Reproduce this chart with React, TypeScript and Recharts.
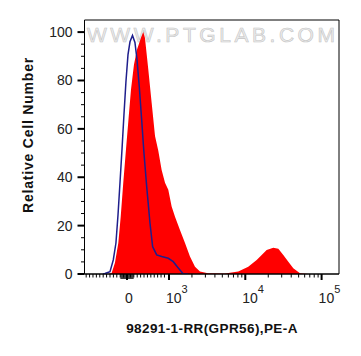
import React from "react";
import { ComposedChart, Area, Line, XAxis, YAxis, ReferenceArea, Label } from "recharts";

// x positions are in display decades (biexponential axis: 3 = 10^3, 4 = 10^4 ...)
const X_MIN = 1.893;
const X_MAX = 5.228;
const ZERO = 2.45;

const samplePos = [
  2.2, 2.249, 2.292, 2.336, 2.367, 2.401, 2.436, 2.469, 2.502, 2.541, 2.581, 2.607, 2.633,
  2.663, 2.685, 2.729, 2.773, 2.817, 2.86, 2.904, 2.948, 2.991, 3.035, 3.079, 3.144, 3.21,
  3.275, 3.341, 3.406, 3.511, 3.734, 3.908, 4.039, 4.149, 4.215, 4.28, 4.367, 4.433, 4.498,
  4.564, 4.629, 4.717, 4.822,
];
const sampleCount = [
  0, 0.4, 4.6, 12.8, 23.6, 37.7, 51.3, 63.8, 76.2, 86.5, 92.8, 95.2, 97.7,
  100, 97.7, 84.5, 70.8, 57, 51, 43, 37.7, 34.8, 27.9, 23.7, 18.2, 12.8,
  7.2, 3, 1, 0.3, 0.2, 1, 3, 5.8, 7.9, 9.9, 10.9, 10.4, 7.9,
  5.1, 2.4, 0.3, 0,
];

const controlPos = [
  2.135, 2.161, 2.227, 2.27, 2.305, 2.332, 2.358, 2.384, 2.41, 2.436, 2.463, 2.489, 2.522,
  2.554, 2.581, 2.611, 2.642, 2.672, 2.708, 2.751, 2.786, 2.839, 2.904, 2.991, 3.056, 3.122,
  3.187, 3.249,
];
const controlCount = [
  0, 0.2, 1, 5.8, 12.8, 24.4, 37.7, 51.3, 65.8, 79.5, 90.7, 96, 98.6,
  95.7, 88.6, 77.4, 63.8, 50.1, 36.1, 21.1, 11.3, 7.9, 7.2, 6.5, 5.1, 2.5,
  0, 0,
];

const xMajor = [ZERO, 3, 4, 5];
const xMajorBase = ["0", "10", "10", "10"];
const xMajorExp = ["", "3", "4", "5"];

const yMajor = [0, 20, 40, 60, 80, 100];

// minor ticks
const logMinor: number[] = [];
[3, 4].forEach((d) => {
  for (let k = 2; k <= 9; k++) logMinor.push(d + Math.log10(k));
});
const STEP = 0.0446;
const linMinor: number[] = [];
for (let k = 1; ZERO - k * STEP > X_MIN + 0.02; k++) linMinor.push(ZERO - k * STEP);
for (let k = 1; ZERO + k * STEP < 2.985; k++) linMinor.push(ZERO + k * STEP);
const cluster: number[] = [];
for (let j = -6; j <= 6; j++) if (j !== 0) cluster.push(ZERO + j * 0.0131);

const xTicks = [...xMajor, ...logMinor, ...linMinor, ...cluster].sort((a, b) => a - b);
const clusterSet = new Set(cluster);

const yTicks: number[] = [];
for (let v = 0; v <= 100; v += 5) yTicks.push(v);

const sampleData = samplePos.map((x, i) => ({ x, y: sampleCount[i] }));
const controlData = controlPos.map((x, i) => ({ x, y: controlCount[i] }));

const FONT = "'Liberation Sans', Arial, sans-serif";

function XTick(props: any) {
  const { x, y, payload } = props;
  const i = xMajor.indexOf(payload.value);
  if (i >= 0) {
    return (
      <g>
        <line x1={x} x2={x} y1={y} y2={y + 6} stroke="#000" strokeWidth={2} />
        {xMajorExp[i] === "" ? (
          <text x={x + 2} y={y + 29} textAnchor="middle" fontFamily={FONT} fontSize={14} fill="#222">
            {xMajorBase[i]}
          </text>
        ) : (
          <text x={x - 3} y={y + 29} textAnchor="start" fontFamily={FONT} fontSize={14} fill="#222">
            {xMajorBase[i]}
            <tspan dy={-10} fontSize={11}>{xMajorExp[i]}</tspan>
          </text>
        )}
      </g>
    );
  }
  const len = clusterSet.has(payload.value) ? 5 : 3.5;
  return <line x1={x} x2={x} y1={y} y2={y + len} stroke="#000" strokeWidth={1} />;
}

function YTick(props: any) {
  const { x, y, payload } = props;
  if (yMajor.includes(payload.value)) {
    return (
      <g>
        <line x1={x - 7} x2={x} y1={y} y2={y} stroke="#000" strokeWidth={2} />
        <text x={x - 12} y={y + 5} textAnchor="end" fontFamily={FONT} fontSize={14} fill="#222">
          {payload.value}
        </text>
      </g>
    );
  }
  return <line x1={x - 3.5} x2={x} y1={y} y2={y} stroke="#000" strokeWidth={1} />;
}

export default function App() {
  return (
    <div style={{ position: "absolute", left: 0, top: 0, width: 361, height: 356, background: "#fff" }}>
      <svg width={361} height={356} style={{ position: "absolute", left: 0, top: 0 }}>
        <text
          x={87}
          y={42}
          textLength={248}
          lengthAdjust="spacing"
          fontFamily={FONT}
          fontSize={21}
          fill="#ececec"
          stroke="#c4c4c4"
          strokeWidth={0.6}
        >
          WWW.PTGLAB.COM
        </text>
      </svg>
      <div style={{ position: "absolute", left: 0, top: 0 }}>
        <ComposedChart width={361} height={356} margin={{ top: 20, right: 22, bottom: 32, left: 24.5 }}>
          <XAxis
            type="number"
            dataKey="x"
            domain={[X_MIN, X_MAX]}
            ticks={xTicks}
            interval={0}
            allowDataOverflow
            tick={(p: any) => <XTick {...p} />}
            tickLine={false}
            tickSize={0}
            tickMargin={0}
            axisLine={{ stroke: "#000", strokeWidth: 1 }}
            height={50}
          >
            <Label
              content={() => (
                <text x={212} y={333} textAnchor="middle" fontFamily={FONT} fontSize={13.5} fontWeight="bold" fill="#111" letterSpacing={0.4}>
                  98291-1-RR(GPR56),PE-A
                </text>
              )}
            />
          </XAxis>
          <YAxis
            type="number"
            domain={[0, 105]}
            ticks={yTicks}
            interval={0}
            allowDataOverflow
            tick={(p: any) => <YTick {...p} />}
            tickLine={false}
            tickSize={0}
            tickMargin={0}
            axisLine={{ stroke: "#000", strokeWidth: 1 }}
            width={60}
          >
            <Label
              content={() => (
                <text
                  x={33}
                  y={135}
                  transform="rotate(-90 33 135)"
                  textAnchor="middle"
                  fontFamily={FONT}
                  fontSize={14}
                  fontWeight="bold"
                  fill="#111"
                  letterSpacing={0.8}
                >
                  Relative Cell Number
                </text>
              )}
            />
          </YAxis>
          <Area
            data={sampleData}
            dataKey="y"
            type="linear"
            fill="#ff0000"
            fillOpacity={1}
            stroke="none"
            isAnimationActive={false}
          />
          <Line
            data={controlData}
            dataKey="y"
            type="linear"
            stroke="#1e1e8c"
            strokeWidth={1.5}
            dot={false}
            isAnimationActive={false}
          />
          <ReferenceArea x1={X_MIN} x2={X_MAX} y1={0} y2={105} fill="none" stroke="#000" strokeWidth={1} ifOverflow="visible" />
        </ComposedChart>
      </div>
    </div>
  );
}
